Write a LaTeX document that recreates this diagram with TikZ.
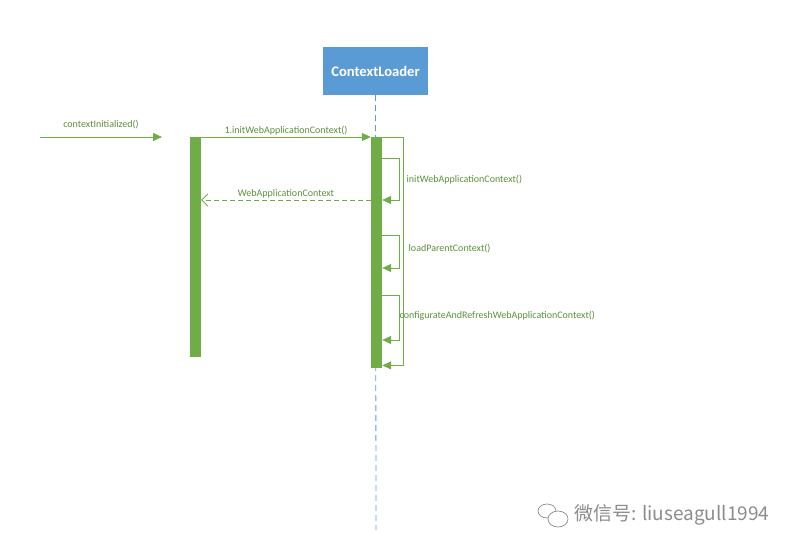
\documentclass[tikz,border=0pt]{standalone}
\usepackage{fontspec}
\setmainfont{Carlito}
\newfontfamily\cjk{Noto Sans CJK SC}
\usetikzlibrary{calc,arrows.meta}

\definecolor{actgreen}{HTML}{70AD47}
\definecolor{txtgreen}{HTML}{5B8F3A}
\definecolor{boxblue}{HTML}{5B9BD5}
\definecolor{markgray}{HTML}{8C8C8C}

\tikzset{
  bar/.style={fill=actgreen, draw=none, minimum width=11pt, inner sep=0pt, anchor=north},
  msg/.style={actgreen, line width=0.8pt, -{Triangle[length=9pt,width=8pt]}},
  reply/.style={actgreen, line width=0.8pt, dash pattern=on 5pt off 3pt, -{Straight Barb[length=6pt,width=12pt]}},
  lbl/.style={text=txtgreen, font=\fontsize{10}{11}\selectfont, inner sep=1.5pt},
  lifeline/.style={boxblue, line width=0.8pt, dash pattern=on 6pt off 4pt}
}

\begin{document}
\begin{tikzpicture}[x=1pt,y=-1pt]
  \useasboundingbox (0,0) rectangle (796,551);
  % lifeline head
  \node[fill=boxblue, minimum width=105pt, minimum height=48pt, inner sep=0pt,
        text=white, font=\fontsize{14.6}{16}\selectfont\bfseries] (loader) at (375.5,71) {ContextLoader};
  \coordinate (lifeend) at (376,530);
  \draw[lifeline] (loader.south) -- (lifeend);
  % activations
  \node[bar, minimum height=220pt] (leftbar) at (195.5,137) {};
  \node[bar, minimum height=231pt] (rightbar) at (376.5,137) {};
  % incoming call
  \coordinate (start) at (40,137);
  \coordinate (stop) at (162,137);
  \draw[msg] (start) -- (stop) node[lbl, midway, above=6pt]{contextInitialized()};
  \draw[msg] (leftbar.north east) -- (rightbar.north west)
    node[lbl, midway, above=0pt]{1.initWebApplicationContext()};
  % outer self call
  \draw[msg] (rightbar.north east) -- ++(21,0) |- ($(rightbar.south east)+(0,-3)$);
  % inner self calls
  \draw[msg] ($(rightbar.north east)+(0,21)$) -- ++(17,0) |- ($(rightbar.north east)+(0,63)$);
  \node[lbl, anchor=west] (l1) at (405,180) {initWebApplicationContext()};
  \draw[msg] ($(rightbar.north east)+(0,98)$) -- ++(17,0) |- ($(rightbar.north east)+(0,131)$);
  \node[lbl, anchor=west] (l2) at (407,249) {loadParentContext()};
  \draw[msg] ($(rightbar.north east)+(0,158)$) -- ++(17,0) |- ($(rightbar.north east)+(0,203)$);
  \node[lbl, anchor=west] (l3) at (398,316) {configurateAndRefreshWebApplicationContext()};
  % return
  \draw[reply] ($(rightbar.north west)+(0,63)$) -- ($(leftbar.north east)+(0,63)$)
    node[lbl, midway, above=0pt]{WebApplicationContext};
  % watermark
  \draw[markgray, line width=0.7pt] (547,511) ellipse (9 and 7);
  \draw[markgray, line width=0.7pt, fill=white] (558,519) ellipse (10 and 8);
  \node[text=markgray, anchor=west, inner sep=0pt, font=\cjk\fontsize{19}{21}\selectfont] (mark) at (574,515) {微信号: liuseagull1994};
\end{tikzpicture}
\end{document}
